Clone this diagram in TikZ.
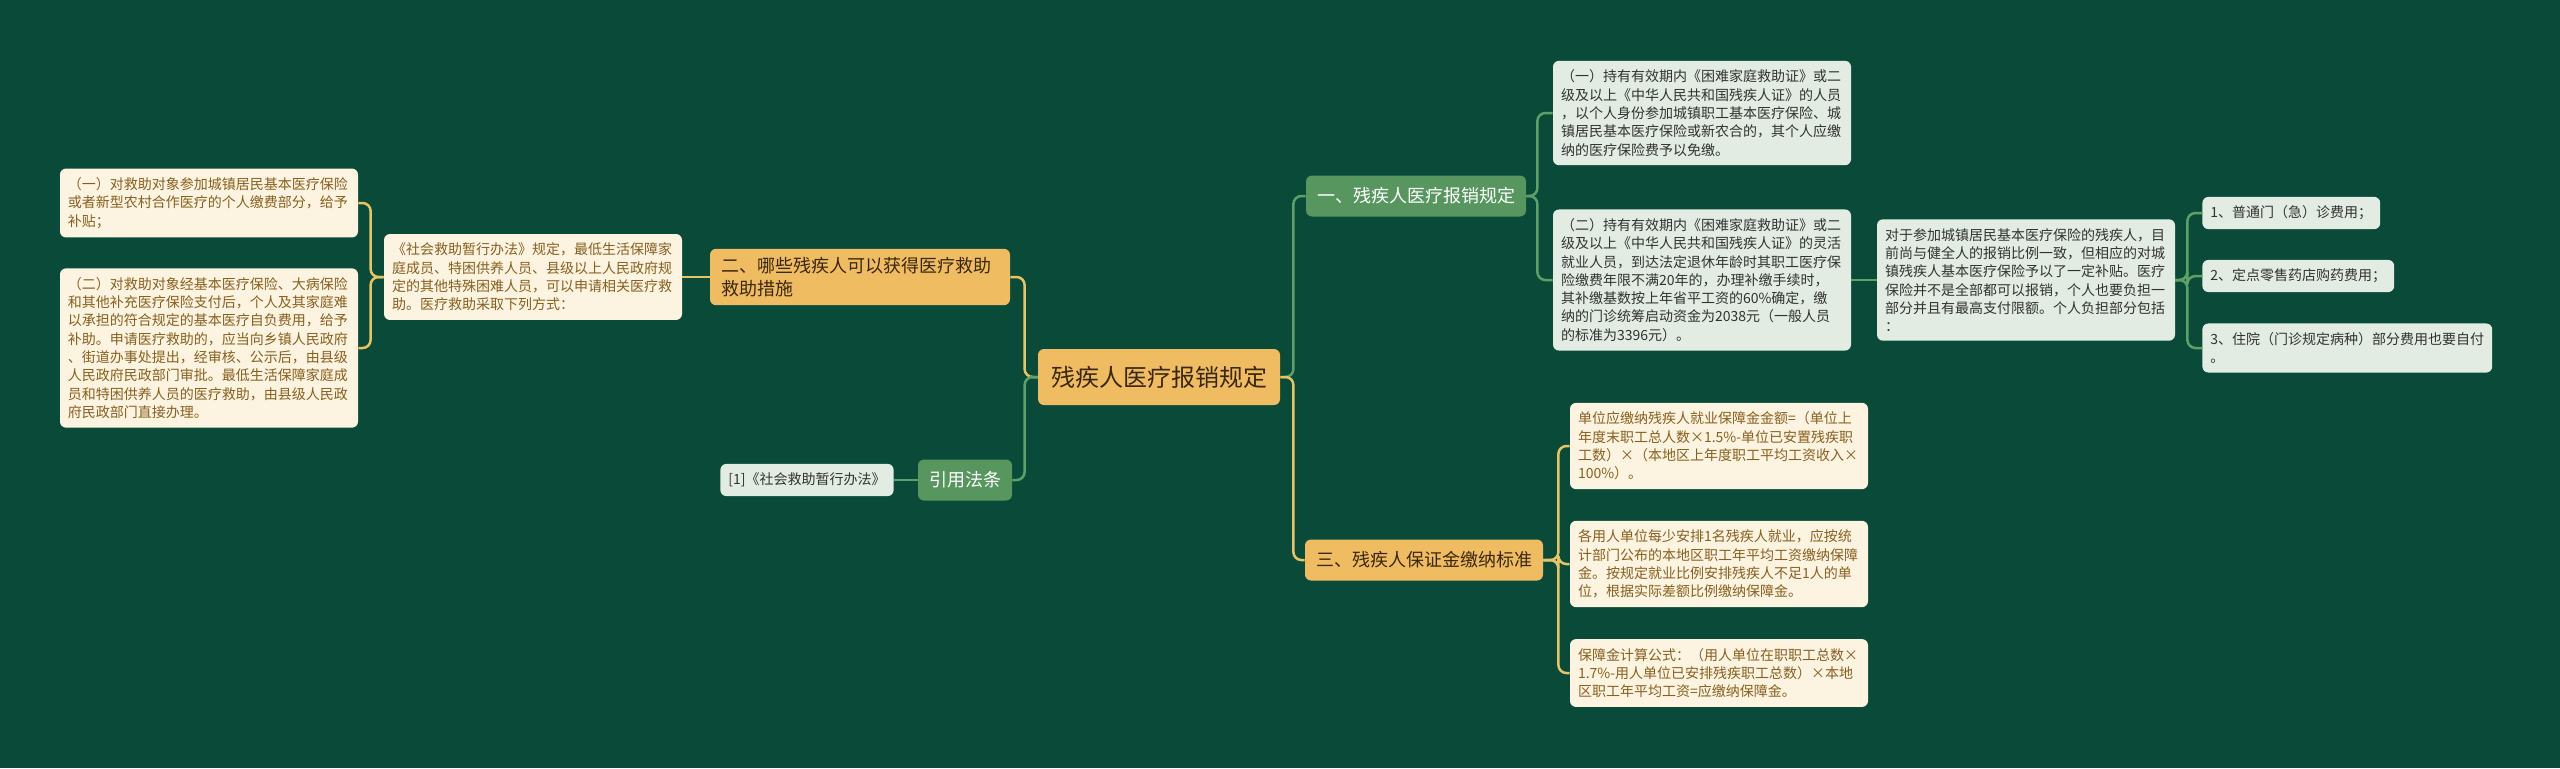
\documentclass[tikz,border=0pt]{standalone}
\usepackage{fontspec}
\setmainfont{Noto Sans CJK SC}
\usepackage{xcolor}

\definecolor{bgdark}{RGB}{9,74,57}
\definecolor{orangefill}{RGB}{240,188,98}
\definecolor{orangetext}{RGB}{58,40,12}
\definecolor{greenfill}{RGB}{88,150,96}
\definecolor{creamfill}{RGB}{253,243,225}
\definecolor{creamtext}{RGB}{135,96,30}
\definecolor{mintfill}{RGB}{226,236,226}
\definecolor{minttext}{RGB}{50,50,50}
\definecolor{yellowline}{RGB}{232,196,100}
\definecolor{greenline}{RGB}{96,160,104}

\begin{document}
\begin{tikzpicture}[x=0.5pt,y=-0.5pt]
% Define styles
\tikzstyle{rootbox}=[rectangle, rounded corners=3pt, fill=orangefill, text=orangetext, font=\fontsize{12}{14}\selectfont, inner xsep=6.5pt, minimum height=28pt]
\tikzstyle{mainbox}=[rectangle, rounded corners=3pt, font=\fontsize{9}{11.8}\selectfont, inner xsep=5.5pt, inner ysep=4pt, minimum height=20.5pt]
\tikzstyle{orangebox}=[mainbox, fill=orangefill, text=orangetext]
\tikzstyle{greenbox}=[mainbox, fill=greenfill, text=white]
\tikzstyle{leaf}=[rectangle, rounded corners=3pt, font=\fontsize{7}{9.15}\selectfont, inner xsep=4pt, inner ysep=4.5pt, align=left]
\tikzstyle{creamleaf}=[leaf, fill=creamfill, text=creamtext, text width=141pt]
\tikzstyle{mintleaf}=[leaf, fill=mintfill, text=minttext, text width=141pt]
\tikzstyle{mintnote}=[leaf, fill=mintfill, text=minttext]
\tikzstyle{yline}=[draw=yellowline, line width=1.25pt, rounded corners=4pt]
\tikzstyle{gline}=[draw=greenline, line width=1.25pt, rounded corners=4pt]

% Background
\fill[bgdark] (0,0) rectangle (2560,768);

% Main topics
\node[rootbox] (root) at (1159,377) {残疾人医疗报销规定};
\node[greenbox] (one) at (1416,196) {一、残疾人医疗报销规定};
\node[orangebox] (three) at (1424,560) {三、残疾人保证金缴纳标准};
\node[orangebox, text width=139pt, align=left] (two) at (860,277) {二、哪些残疾人可以获得医疗救助\\救助措施};
\node[greenbox] (cite) at (965,480) {引用法条};

% Left branch
\node[creamleaf] (rule) at (533,277) {《社会救助暂行办法》规定，最低生活保障家\\庭成员、特困供养人员、县级以上人民政府规\\定的其他特殊困难人员，可以申请相关医疗救\\助。医疗救助采取下列方式：};
\node[creamleaf] (helpA) at (209,203) {（一）对救助对象参加城镇居民基本医疗保险\\或者新型农村合作医疗的个人缴费部分，给予\\补贴；};
\node[creamleaf] (helpB) at (209,348) {（二）对救助对象经基本医疗保险、大病保险\\和其他补充医疗保险支付后，个人及其家庭难\\以承担的符合规定的基本医疗自负费用，给予\\补助。申请医疗救助的，应当向乡镇人民政府\\、街道办事处提出，经审核、公示后，由县级\\人民政府民政部门审批。最低生活保障家庭成\\员和特困供养人员的医疗救助，由县级人民政\\府民政部门直接办理。};
\node[mintnote] (law) at (807,480) {[1]《社会救助暂行办法》};

% Reimbursement branch
\node[mintleaf] (oneA) at (1702,113) {（一）持有有效期内《困难家庭救助证》或二\\级及以上《中华人民共和国残疾人证》的人员\\，以个人身份参加城镇职工基本医疗保险、城\\镇居民基本医疗保险或新农合的，其个人应缴\\纳的医疗保险费予以免缴。};
\node[mintleaf] (oneB) at (1702,280) {（二）持有有效期内《困难家庭救助证》或二\\级及以上《中华人民共和国残疾人证》的灵活\\就业人员，到达法定退休年龄时其职工医疗保\\险缴费年限不满20年的，办理补缴手续时，\\其补缴基数按上年省平工资的60\%确定，缴\\纳的门诊统筹启动资金为2038元（一般人员\\的标准为3396元）。};
\node[mintleaf] (share) at (2026,280) {对于参加城镇居民基本医疗保险的残疾人，目\\前尚与健全人的报销比例一致，但相应的对城\\镇残疾人基本医疗保险予以了一定补贴。医疗\\保险并不是全部都可以报销，个人也要负担一\\部分并且有最高支付限额。个人负担部分包括\\：};
\node[mintnote, anchor=west] (fee1) at (2202,213) {1、普通门（急）诊费用；};
\node[mintnote, anchor=west] (fee2) at (2202,276) {2、定点零售药店购药费用；};
\node[mintnote, anchor=west] (fee3) at (2202,348) {3、住院（门诊规定病种）部分费用也要自付\\。};

% Levy branch
\node[creamleaf] (levyA) at (1719,446) {单位应缴纳残疾人就业保障金金额=（单位上\\年度末职工总人数×1.5\%-单位已安置残疾职\\工数）×（本地区上年度职工平均工资收入×\\100\%）。};
\node[creamleaf] (levyB) at (1719,564) {各用人单位每少安排1名残疾人就业，应按统\\计部门公布的本地区职工年平均工资缴纳保障\\金。按规定就业比例安排残疾人不足1人的单\\位，根据实际差额比例缴纳保障金。};
\node[creamleaf] (levyC) at (1719,673) {保障金计算公式：（用人单位在职职工总数×\\1.7\%-用人单位已安排残疾职工总数）×本地\\区职工年平均工资=应缴纳保障金。};

% Connectors left
\draw[yline] (root.west) -- ++(-13,0) |- (two.east);
\draw[gline] (root.west) -- ++(-13,0) |- (cite.east);
\draw[yline] (two.west) -- (rule.east);
\draw[yline] (rule.west) -- ++(-13,0) |- (helpA.east);
\draw[yline] (rule.west) -- ++(-13,0) |- (helpB.east);
\draw[gline] (cite.west) -- (law.east);

% Connectors right
\draw[gline] (root.east) -- ++(13,0) |- (one.west);
\draw[yline] (root.east) -- ++(13,0) |- (three.west);
\draw[gline] (one.east) -- ++(11,0) |- (oneA.west);
\draw[gline] (one.east) -- ++(11,0) |- (oneB.west);
\draw[gline] (oneB.east) -- (share.west);
\draw[gline] (share.east) -- ++(12,0) |- (fee1.west);
\draw[gline] (share.east) -- ++(12,0) |- (fee2.west);
\draw[gline] (share.east) -- ++(12,0) |- (fee3.west);
\draw[yline] (three.east) -- ++(15,0) |- (levyA.west);
\draw[yline] (three.east) -- ++(15,0) |- (levyB.west);
\draw[yline] (three.east) -- ++(15,0) |- (levyC.west);

\end{tikzpicture}
\end{document}
